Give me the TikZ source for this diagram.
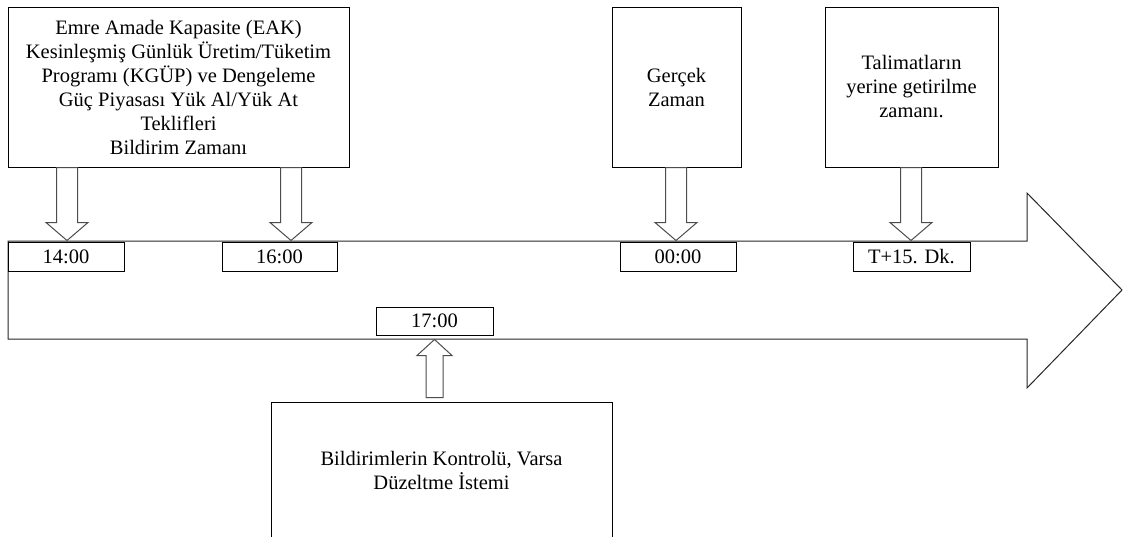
\documentclass[tikz,border=0pt]{standalone}
\usepackage{fontspec}
\setmainfont{Liberation Serif}
\usetikzlibrary{calc}

% hollow block arrow pointing down: from node, to node, x shift of the shaft
\newcommand{\blockdown}[3]{%
  \draw[hollowarrow] let \p1=(#1.south), \p2=(#2.north), \n1={\x2+(#3)} in
    ({\n1-10.5},\y1) -- ({\n1+10.5},\y1) -- ({\n1+10.5},{\y2+19})
    -- ({\n1+21},{\y2+19}) -- (\n1,{\y2+1}) -- ({\n1-21},{\y2+19})
    -- ({\n1-10.5},{\y2+19}) -- cycle;}
% hollow block arrow pointing up: from node, to node
\newcommand{\blockup}[2]{%
  \draw[hollowarrow] let \p1=(#1.north), \p2=(#2.south) in
    ({\x2-8.5},{\y1+4}) -- ({\x2+8.5},{\y1+4}) -- ({\x2+8.5},{\y2-20})
    -- ({\x2+17.5},{\y2-20}) -- (\x2,{\y2-4}) -- ({\x2-17.5},{\y2-20})
    -- ({\x2-8.5},{\y2-20}) -- cycle;}

\begin{document}
\begin{tikzpicture}[x=1pt,y=1pt,
  txt/.style={font=\fontsize{20.5}{24}\selectfont},
  eventbox/.style={draw=black, line width=1pt, fill=white, align=center,
    inner sep=0pt, minimum height=160, txt},
  timebox/.style={draw=black, line width=1pt, fill=white, align=center,
    inner sep=0pt, minimum height=29, txt},
  hollowarrow/.style={draw=black!70, line width=1pt, fill=white, line join=miter},
  timeline/.style={draw=black!85, line width=1pt, fill=white}]
\useasboundingbox (0,0) rectangle (1123,-536);
\clip (0,0) rectangle (1123,-536);

% time axis as a wide block arrow
\draw[timeline] (8,-241) -- (1027,-241) -- (1027,-193) -- (1122,-290)
  -- (1027,-388) -- (1027,-339) -- (8,-339) -- cycle;

% event boxes
\node[eventbox, minimum width=341] (eak) at (178.5,-87)
  {Emre Amade Kapasite (EAK)\\Kesinleşmiş Günlük Üretim/Tüketim\\Programı (KGÜP) ve Dengeleme\\Güç Piyasası Yük Al/Yük At\\Teklifleri\\Bildirim Zamanı};
\node[eventbox, minimum width=129] (real) at (676.5,-87) {Gerçek\\Zaman};
\node[eventbox, minimum width=173] (instr) at (911.5,-87)
  {Talimatların\\yerine getirilme\\zamanı.};
\node[eventbox, minimum width=341, minimum height=136] (check) at (441.5,-470)
  {Bildirimlerin Kontrolü, Varsa\\Düzeltme İstemi};

% time labels
\node[timebox, minimum width=116] (t14) at (66,-256.5) {14:00};
\node[timebox, minimum width=115] (t16) at (279.5,-256.5) {16:00};
\node[timebox, minimum width=116] (t00) at (678,-256.5) {00:00};
\node[timebox, minimum width=117] (t15) at (911.5,-256.5) {T+15. Dk.};
\node[timebox, minimum width=117, minimum height=28] (t17) at (434.5,-321) {17:00};

% connectors
\blockdown{eak}{t14}{1}
\blockdown{eak}{t16}{11.5}
\blockdown{real}{t00}{-2}
\blockdown{instr}{t15}{-0.5}
\blockup{check}{t17}
\end{tikzpicture}
\end{document}
